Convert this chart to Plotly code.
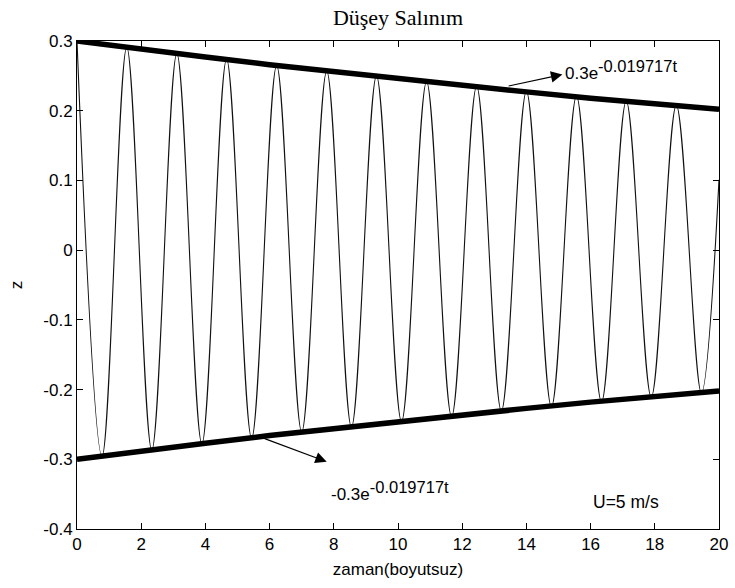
import plotly.graph_objects as go

# ---- data ----
env_t = [0, 2, 4, 6, 8, 10, 12, 14, 16, 18, 20]
env_upper = [0.300, 0.288, 0.277, 0.266, 0.256, 0.246, 0.236, 0.227, 0.218, 0.210, 0.202]
env_lower = [-0.300, -0.288, -0.277, -0.266, -0.256, -0.246, -0.236, -0.227, -0.218, -0.210, -0.202]

# extrema of the oscillation (peaks/troughs) and the end point
osc_t = [0.00, 0.78, 1.55, 2.33, 3.11, 3.89, 4.66, 5.44, 6.22, 7.00, 7.78, 8.55,
         9.33, 10.11, 10.89, 11.67, 12.45, 13.22, 14.00, 14.78, 15.56, 16.34,
         17.11, 17.89, 18.67, 19.45, 20.00]
osc_z = [0.300, -0.296, 0.291, -0.287, 0.282, -0.278, 0.274, -0.270, 0.265, -0.261,
         0.257, -0.254, 0.250, -0.246, 0.242, -0.239, 0.235, -0.231, 0.228, -0.225,
         0.221, -0.218, 0.214, -0.211, 0.208, -0.205, 0.101]

x_ticks = [0, 2, 4, 6, 8, 10, 12, 14, 16, 18, 20]
y_ticks = [-0.4, -0.3, -0.2, -0.1, 0, 0.1, 0.2, 0.3]
y_tick_text = ["-0.4", "-0.3", "-0.2", "-0.1", "0", "0.1", "0.2", "0.3"]

title_text = "Düşey Salınım"
x_label = "zaman(boyutsuz)"
y_label = "z"
upper_label = '0.3e<sup><span style="font-size:16.5px">-0.019717t</span></sup>'
lower_label = '-0.3e<sup><span style="font-size:16.5px">-0.019717t</span></sup>'
speed_label = "U=5 m/s"

SANS = "Liberation Sans, Arial, sans-serif"
SERIF = "Liberation Serif, Times New Roman, serif"

fig = go.Figure()
fig.add_trace(go.Scatter(x=osc_t, y=osc_z, mode="lines",
                         line=dict(color="#111111", width=1.1, shape="spline"),
                         showlegend=False, hoverinfo="skip"))
fig.add_trace(go.Scatter(x=env_t, y=env_upper, mode="lines",
                         line=dict(color="black", width=5.5),
                         showlegend=False, cliponaxis=False))
fig.add_trace(go.Scatter(x=env_t, y=env_lower, mode="lines",
                         line=dict(color="black", width=5.5),
                         showlegend=False, cliponaxis=False))

# arrows
fig.add_annotation(x=15.12, y=0.252, ax=13.4, ay=0.235, xref="x", yref="y",
                   axref="x", ayref="y", text="", showarrow=True,
                   arrowhead=2, arrowsize=1.9, arrowwidth=1.2, arrowcolor="black")
fig.add_annotation(x=7.78, y=-0.3035, ax=5.8, ay=-0.2696, xref="x", yref="y",
                   axref="x", ayref="y", text="", showarrow=True,
                   arrowhead=2, arrowsize=1.9, arrowwidth=1.2, arrowcolor="black")

# labels
fig.add_annotation(x=15.15, y=0.258, xref="x", yref="y", text=upper_label,
                   showarrow=False, xanchor="left", yanchor="middle",
                   font=dict(family=SANS, size=17, color="black"))
fig.add_annotation(x=9.75, y=-0.345, xref="x", yref="y", text=lower_label,
                   showarrow=False, xanchor="center", yanchor="middle",
                   font=dict(family=SANS, size=17, color="black"))
fig.add_annotation(x=17.1, y=-0.361, xref="x", yref="y", text=speed_label,
                   showarrow=False, xanchor="center", yanchor="middle",
                   font=dict(family=SANS, size=17.5, color="black"))

axis_common = dict(showgrid=False, zeroline=False, showline=True, linecolor="black",
                   linewidth=1, mirror="ticks", ticks="inside", ticklen=6,
                   tickcolor="black", tickwidth=1,
                   tickfont=dict(family=SANS, size=17, color="black"))

fig.update_layout(
    width=735, height=588,
    margin=dict(l=77, r=16, t=41, b=59, autoexpand=False),
    paper_bgcolor="white", plot_bgcolor="white",
    title=dict(text=title_text, x=0.5, xref="paper", y=1 - 17 / 588,
               yref="container", xanchor="center", yanchor="middle",
               font=dict(family=SERIF, size=22, color="black")),
    xaxis=dict(range=[0, 20], tickvals=x_ticks, ticktext=[str(v) for v in x_ticks],
               title=dict(text=x_label, standoff=9,
                          font=dict(family=SANS, size=17, color="black")),
               **axis_common),
    yaxis=dict(range=[-0.4, 0.3], tickvals=y_ticks, ticktext=y_tick_text,
               title=dict(text=y_label, standoff=16,
                          font=dict(family=SANS, size=17, color="black")),
               **axis_common),
)

fig.write_html("out.html")
